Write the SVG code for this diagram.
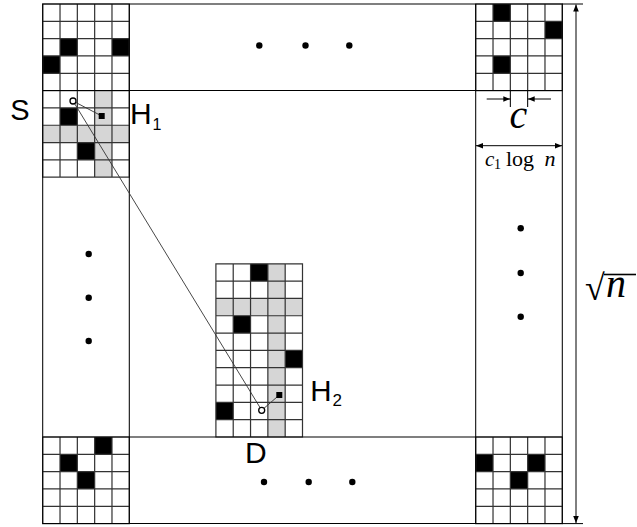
<svg xmlns="http://www.w3.org/2000/svg" width="637" height="527" viewBox="0 0 637 527">
<style>
.gl{fill:none;stroke:#333;stroke-width:0.07}
.fr{fill:none;stroke:#000;stroke-width:0.06}
.k{fill:#000}
.g{fill:#d6d6d6}
.dot{fill:#000}
.lbl{font-family:"Liberation Sans",Arial,sans-serif;fill:#000}
.math{font-family:"Liberation Serif","Times New Roman",serif;fill:#000}
.dim{stroke:#000;stroke-width:1;fill:none}
.conn{stroke:#333;stroke-width:0.9;fill:none}
</style>
<defs>
<marker id="ah" viewBox="0 0 10 10" refX="10" refY="5" markerWidth="7" markerHeight="7" markerUnits="userSpaceOnUse" orient="auto-start-reverse">
<path d="M0,1 L10,5 L0,9 Z" fill="#000"/>
</marker>
</defs>
<rect width="637" height="527" fill="#fff"/>
<g transform="matrix(17.32 0 0 17.32 42.7 4)">
<g id="grid-tl">
<rect class="g" x="3" y="5" width="1" height="5"/>
<rect class="g" x="0" y="7" width="5" height="1"/>
<rect class="k" x="1" y="2" width="1" height="1"/>
<rect class="k" x="4" y="2" width="1" height="1"/>
<rect class="k" x="0" y="3" width="1" height="1"/>
<rect class="k" x="1" y="6" width="1" height="1"/>
<rect class="k" x="2" y="8" width="1" height="1"/>
<path class="gl" d="M0 0H5V10H0Z M1 0V10 M2 0V10 M3 0V10 M4 0V10 M0 1H5 M0 2H5 M0 3H5 M0 4H5 M0 5H5 M0 6H5 M0 7H5 M0 8H5 M0 9H5"/>
</g>
<g id="grid-tr">
<rect class="k" x="26" y="0" width="1" height="1"/>
<rect class="k" x="29" y="1" width="1" height="1"/>
<rect class="k" x="26" y="3" width="1" height="1"/>
<path class="gl" d="M25 0H30V5H25Z M26 0V5 M27 0V5 M28 0V5 M29 0V5 M25 1H30 M25 2H30 M25 3H30 M25 4H30"/>
</g>
<g id="grid-mid">
<rect class="g" x="13" y="15" width="1" height="10"/>
<rect class="g" x="10" y="17" width="5" height="1"/>
<rect class="k" x="12" y="15" width="1" height="1"/>
<rect class="k" x="11" y="18" width="1" height="1"/>
<rect class="k" x="14" y="20" width="1" height="1"/>
<rect class="k" x="10" y="23" width="1" height="1"/>
<path class="gl" d="M10 15H15V25H10Z M11 15V25 M12 15V25 M13 15V25 M14 15V25 M10 16H15 M10 17H15 M10 18H15 M10 19H15 M10 20H15 M10 21H15 M10 22H15 M10 23H15 M10 24H15"/>
</g>
<g id="grid-bl">
<rect class="k" x="3" y="25" width="1" height="1"/>
<rect class="k" x="1" y="26" width="1" height="1"/>
<rect class="k" x="2" y="27" width="1" height="1"/>
<path class="gl" d="M0 25H5V30H0Z M1 25V30 M2 25V30 M3 25V30 M4 25V30 M0 26H5 M0 27H5 M0 28H5 M0 29H5"/>
</g>
<g id="grid-br">
<rect class="k" x="25" y="26" width="1" height="1"/>
<rect class="k" x="28" y="26" width="1" height="1"/>
<rect class="k" x="27" y="27" width="1" height="1"/>
<path class="gl" d="M25 25H30V30H25Z M26 25V30 M27 25V30 M28 25V30 M29 25V30 M25 26H30 M25 27H30 M25 28H30 M25 29H30"/>
</g>
<g id="frame">
<path class="fr" d="M0 0H30V30H0Z M5 0V30 M25 0V30 M0 5H30 M0 25H30 M27 5V5.95 M28 5V5.95"/>
</g>
</g>
<g id="dots">
<circle class="dot" cx="259.3" cy="45.5" r="3.2"/>
<circle class="dot" cx="305.5" cy="45.5" r="3.2"/>
<circle class="dot" cx="349.3" cy="45.5" r="3.2"/>
<circle class="dot" cx="88.7" cy="254" r="3.2"/>
<circle class="dot" cx="88.7" cy="297.7" r="3.2"/>
<circle class="dot" cx="88.7" cy="341" r="3.2"/>
<circle class="dot" cx="520.7" cy="228.3" r="3.2"/>
<circle class="dot" cx="520.7" cy="273" r="3.2"/>
<circle class="dot" cx="520.7" cy="316.7" r="3.2"/>
<circle class="dot" cx="264" cy="482" r="3.2"/>
<circle class="dot" cx="308.7" cy="482" r="3.2"/>
<circle class="dot" cx="352.3" cy="482" r="3.2"/>
</g>
<g id="connectors">
<line class="conn" x1="73" y1="101" x2="101.7" y2="116"/>
<line class="conn" x1="73" y1="101" x2="261.7" y2="410.3"/>
<line class="conn" x1="261.7" y1="410.3" x2="279.3" y2="395"/>
<line class="dim" x1="486.7" y1="99" x2="510.3" y2="99" marker-end="url(#ah)"/>
<line class="dim" x1="551" y1="99" x2="527.7" y2="99" marker-end="url(#ah)"/>
<line class="dim" x1="476" y1="145.7" x2="562" y2="145.7" marker-start="url(#ah)" marker-end="url(#ah)"/>
<line class="dim" x1="562.3" y1="4" x2="583" y2="4"/>
<line class="dim" x1="562.3" y1="523.6" x2="583" y2="523.6" stroke="#999"/>
<line class="dim" x1="576" y1="4.5" x2="576" y2="523" marker-start="url(#ah)" marker-end="url(#ah)"/>
</g>
<g id="S">
<circle cx="73" cy="101" r="3" fill="#fff" stroke="#000" stroke-width="1.3"/>
<text class="lbl" x="10.3" y="120" font-size="29">S</text>
</g>
<g id="H1">
<rect x="98.7" y="113" width="6" height="6" fill="#000"/>
<text class="lbl" x="130" y="124.3" font-size="30">H</text>
<text class="lbl" x="152.4" y="129.5" font-size="16">1</text>
</g>
<g id="D">
<circle cx="261.7" cy="410.3" r="3" fill="#fff" stroke="#000" stroke-width="1.3"/>
<text class="lbl" x="245" y="463.3" font-size="30">D</text>
</g>
<g id="H2">
<rect x="276.3" y="392" width="6" height="6" fill="#000"/>
<text class="lbl" x="310.3" y="401" font-size="29.5">H</text>
<text class="lbl" x="332.5" y="405.5" font-size="17">2</text>
</g>
<g id="label-c">
<text class="math" x="518.3" y="128" font-size="40" font-style="italic" text-anchor="middle">c</text>
</g>
<g id="label-c1logn">
<text class="math" x="485" y="165.5" font-size="21" font-style="italic">c</text>
<text class="math" x="494" y="168.5" font-size="14">1</text>
<text class="math" x="506" y="165.5" font-size="22">log</text>
<text class="math" x="544.5" y="165.5" font-size="22" font-style="italic">n</text>
</g>
<g id="label-sqrtn">
<text class="math" x="585" y="300" font-size="36">√</text>
<line x1="604" y1="274.5" x2="636" y2="274.5" stroke="#000" stroke-width="1.6"/>
<text class="math" x="606" y="297" font-size="40" font-style="italic">n</text>
</g>
</svg>
